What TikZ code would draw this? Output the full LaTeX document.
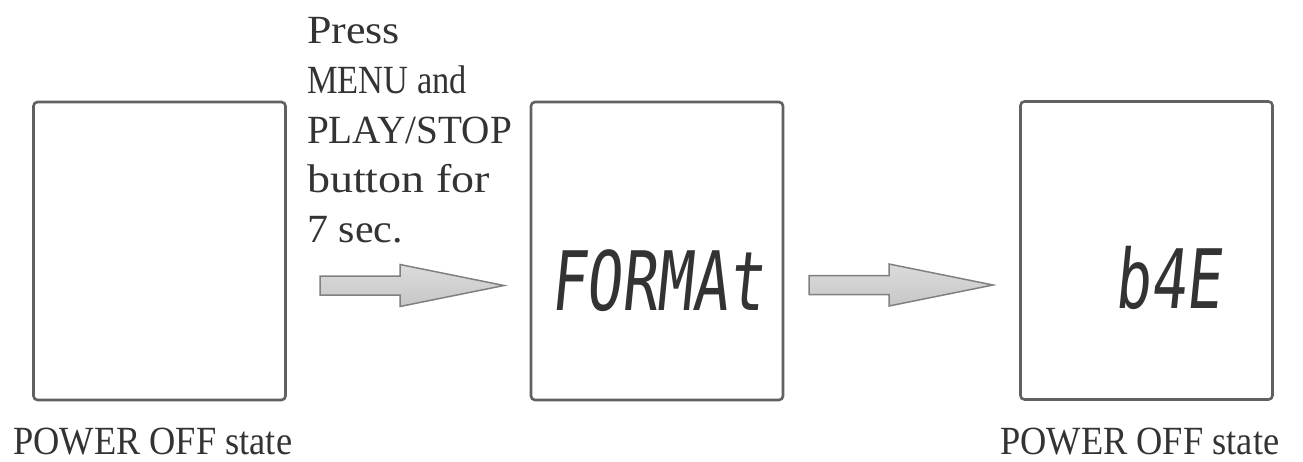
\documentclass[tikz,border=0pt]{standalone}
\usepackage{fontspec}
\setmainfont{Liberation Serif}
\newfontfamily\lcd{DejaVu Sans Mono}[FakeSlant=0.1,FakeStretch=0.72]
\usetikzlibrary{calc}
\tikzset{
  screen/.style={draw=black!62, line width=2.6pt, rounded corners=4pt, fill=white,
    minimum width=252pt, minimum height=298pt, inner sep=0pt},
  caption/.style={font=\fontsize{40}{40}\selectfont, text=black!80, inner sep=0pt, anchor=base west},
  note/.style={font=\fontsize{40}{40}\selectfont, text=black!80, inner sep=0pt, anchor=base west},
  lcdtext/.style={font=\lcd\fontsize{82}{82}\selectfont, text=black!80, inner sep=0pt, anchor=base},
  arrowbody/.style={draw=black!50, line width=1.5pt, line join=miter,
    top color=black!14, middle color=white, bottom color=black!22},
  blockarrow/.pic={\path[arrowbody] (0,-9.5) -- (80,-9.5) -- (80,-21) -- (184,0) -- (80,21) -- (80,9.5) -- (0,9.5) -- cycle;}
}
\begin{document}
\begin{tikzpicture}[x=1pt,y=-1pt]
\useasboundingbox[fill=white] (0,0) rectangle (1303,461);
% screens
\node[screen] (off1) at (159.5,251) {};
\node[screen] (fmt) at (657,251) {};
\node[screen] (off2) at (1146.5,250.5) {};
% LCD texts
\node[lcdtext] (fmttext) at (657,310) {FORMAt};
\node[lcdtext] (byetext) at (1168,308) {b4E};
% arrows
\pic at (320,285.5) {blockarrow};
\pic at (809,285) {blockarrow};
% instruction
\node[note] (l1) at (307,43) {\scalebox{1.1}[1]{Press}};
\node[note] (l2) at (307,93) {\scalebox{0.86}[1]{MENU and}};
\node[note] (l3) at (307,143) {\scalebox{0.98}[1]{PLAY/STOP}};
\node[note] (l4) at (307,192) {\scalebox{1.15}[1]{button for}};
\node[note] (l5) at (307,242) {\scalebox{1.05}[1]{7 sec.}};
% captions
\node[caption] (cap1) at (13,454) {\scalebox{0.91}[1]{POWER OFF state}};
\node[caption] (cap2) at (1000,454) {\scalebox{0.91}[1]{POWER OFF state}};
\end{tikzpicture}
\end{document}
